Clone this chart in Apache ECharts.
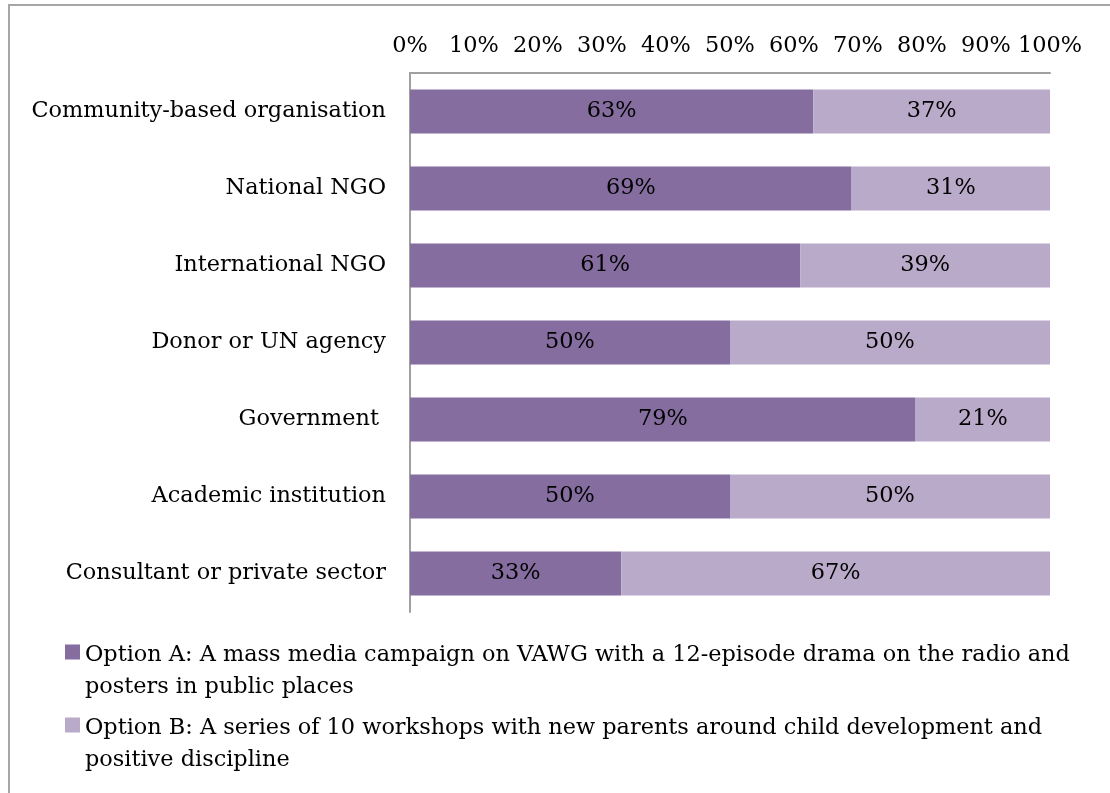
<!DOCTYPE html>
<html>
<head>
<meta charset="utf-8">
<script src="https://cdn.jsdelivr.net/npm/echarts@6/dist/echarts.min.js"></script>
<style>
  html, body { margin: 0; padding: 0; background: #ffffff; }
  #chart { width: 1110px; height: 793px; }
</style>
</head>
<body>
<div id="chart"></div>
<script>
// Respondent types, top to bottom
var categories = [
  'Community-based organisation',
  'National NGO',
  'International NGO',
  'Donor or UN agency',
  'Government ',
  'Academic institution',
  'Consultant or private sector'
];

// Share of each group preferring each option (%)
var optionA = [63, 69, 61, 50, 79, 50, 33];
var optionB = [37, 31, 39, 50, 21, 50, 67];

// Axis tick values (%)
var xTicks = [0, 10, 20, 30, 40, 50, 60, 70, 80, 90, 100];

// Legend entries, split over two lines each
var nameA = ['Option A: A mass media campaign on VAWG with a 12-episode drama on the radio and', 'posters in public places'];
var nameB = ['Option B: A series of 10 workshops with new parents around child development and', 'positive discipline'];

var FONT = "'DejaVu Serif', serif";
var FS = 22.4;
var colorA = '#856D9F';
var colorB = '#B9AAC9';

var chart = echarts.init(document.getElementById('chart'), null, { renderer: 'canvas' });

// One legend per option so the two-line entries can be placed freely;
// an empty leading line keeps the swatch level with the first text line.
function legendFor(name, top) {
  return {
    data: [name.join('\n')],
    orient: 'vertical',
    left: 65,
    top: top,
    padding: 0,
    itemWidth: 15,
    itemHeight: 15,
    icon: 'rect',
    selectedMode: false,
    formatter: function (n) {
      var lines = n.split('\n');
      return '{s| }\n{t|' + lines[0] + '}\n{t|' + lines[1] + '}';
    },
    textStyle: {
      fontFamily: FONT,
      fontSize: FS,
      color: '#000',
      rich: {
        s: { fontFamily: FONT, fontSize: FS, lineHeight: 38 },
        t: { fontFamily: FONT, fontSize: FS, color: '#000', lineHeight: 32 }
      }
    }
  };
}

var labelStyle = {
  show: true,
  position: 'inside',
  fontFamily: FONT,
  fontSize: FS,
  color: '#000',
  formatter: function (p) { return p.value + '%'; }
};

chart.setOption({
  animation: false,
  backgroundColor: '#ffffff',
  graphic: [{
    type: 'rect',
    shape: { x: 9, y: 5, width: 1300, height: 1000 },
    style: { fill: 'none', stroke: '#A6A6A6', lineWidth: 2 },
    silent: true
  }],
  legend: [legendFor(nameA, 609), legendFor(nameB, 682)],
  grid: { left: 410, right: 60, top: 73, bottom: 181, containLabel: false },
  xAxis: {
    type: 'value',
    position: 'top',
    min: xTicks[0],
    max: xTicks[xTicks.length - 1],
    interval: 10,
    axisLine: { show: true, lineStyle: { color: '#A0A0A0', width: 2 } },
    axisTick: { show: false },
    splitLine: { show: false },
    axisLabel: {
      fontFamily: FONT,
      fontSize: FS,
      color: '#000',
      margin: 16,
      formatter: function (v) { return v + '%'; }
    }
  },
  yAxis: {
    type: 'category',
    inverse: true,
    data: categories,
    axisLine: { show: true, lineStyle: { color: '#A0A0A0', width: 2 } },
    axisTick: { show: false },
    axisLabel: {
      fontFamily: FONT,
      fontSize: FS,
      color: '#000',
      margin: 24
    }
  },
  series: [
    {
      name: nameA.join('\n'),
      type: 'bar',
      stack: 'total',
      barCategoryGap: '43%',
      itemStyle: { color: colorA },
      label: labelStyle,
      data: optionA
    },
    {
      name: nameB.join('\n'),
      type: 'bar',
      stack: 'total',
      barCategoryGap: '43%',
      itemStyle: { color: colorB },
      label: labelStyle,
      data: optionB
    }
  ]
});
</script>
</body>
</html>
